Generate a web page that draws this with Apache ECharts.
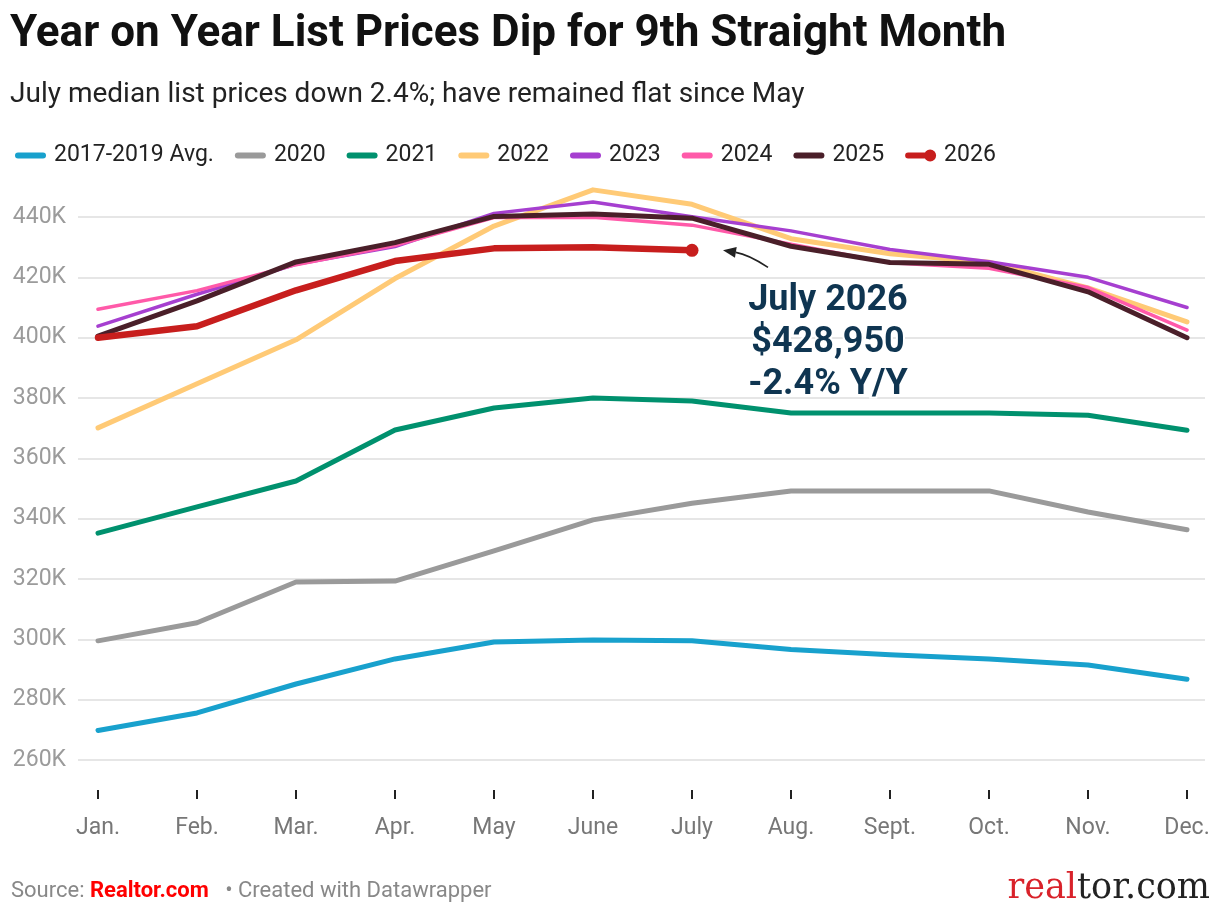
<!DOCTYPE html>
<html>
<head>
<meta charset="utf-8">
<title>Year on Year List Prices Dip for 9th Straight Month</title>
<script src="https://cdn.jsdelivr.net/npm/echarts@6/dist/echarts.min.js"></script>
<style>
  html, body { margin: 0; padding: 0; background: #fff; }
  #chart { width: 1220px; height: 916px; }
</style>
</head>
<body>
<div id="chart"></div>
<script>
    // months + median list prices
    var months = ['Jan.', 'Feb.', 'Mar.', 'Apr.', 'May', 'June', 'July', 'Aug.', 'Sept.', 'Oct.', 'Nov.', 'Dec.'];
    var yTicks = [260000, 440000, 20000]; // min, max, step

    var avg1719 = [269800, 275600, 285200, 293500, 299100, 299800, 299500, 296600, 294900, 293500, 291500, 286800];
    var y2020 = [299500, 305500, 319000, 319300, 329300, 339600, 345100, 349200, 349200, 349200, 342200, 336300];
    var y2021 = [335200, 343900, 352500, 369400, 376700, 380000, 379000, 375000, 375000, 375000, 374300, 369300];
    var y2022 = [370100, 384700, 399300, 419600, 437000, 449000, 444200, 432800, 427800, 425000, 416500, 405200];
    var y2023 = [403800, 414400, 424300, 430200, 441200, 445000, 440100, 435400, 429200, 425200, 420000, 410000];
    var y2024 = [409400, 415600, 424200, 430600, 439800, 439900, 437300, 431000, 424800, 423000, 416600, 402500];
    var y2025 = [400500, 412200, 425100, 431500, 440200, 441000, 439600, 430300, 424900, 424300, 415200, 400000];
    var y2026 = [400000, 403800, 415700, 425400, 429600, 430000, 428950];

    var names = ['2017-2019 Avg.', '2020', '2021', '2022', '2023', '2024', '2025', '2026'];
    var colors = ['#18a1cd', '#9a9a9a', '#00916e', '#ffca76', '#a63fd0', '#ff5aa9', '#4a1f29', '#c71e1d'];
    var widths = [5, 5, 5, 5, 3.5, 3.5, 5, 6.5];
    var values = [avg1719, y2020, y2021, y2022, y2023, y2024, y2025, y2026];

    var lineIcon = 'path://M0,0 M31,12 M3,3 L28,3 A3,3 0 0 1 28,9 L3,9 A3,3 0 0 1 3,3 Z';
    var dotIcon = 'path://M0,0 M31,12 M3,3 L23,3 L23,9 L3,9 A3,3 0 0 1 3,3 Z M19,6 A6,6 0 1 1 31,6 A6,6 0 1 1 19,6 Z';

    var lastIdx = y2026.length - 1;
    var series = [];
    for (var i = 0; i < names.length; i++) {
        var s = {
            name: names[i],
            type: 'line',
            xAxisIndex: 0,
            yAxisIndex: 0,
            clip: false,
            symbol: 'none',
            silent: true,
            color: colors[i],
            lineStyle: { width: widths[i], color: colors[i], cap: 'round', join: 'round' },
            emphasis: { disabled: true },
            data: values[i]
        };
        if (names[i] === '2026') {
            s.showSymbol = true;
            s.data = y2026.map(function (v, k) {
                return k === lastIdx
                    ? { value: v, symbol: 'circle', symbolSize: 13, itemStyle: { color: colors[7] } }
                    : { value: v, symbol: 'none' };
            });
            s.markPoint = {
                symbol: 'circle',
                symbolSize: 0,
                silent: true,
                data: [{ coord: [lastIdx, y2026[lastIdx]] }],
                label: {
                    show: true,
                    formatter: 'July 2026\n$428,950\n-2.4% Y/Y',
                    offset: [136, 93],
                    fontFamily: 'Roboto',
                    fontWeight: 'bold',
                    fontSize: 36,
                    lineHeight: 42,
                    color: '#0f3551',
                    align: 'center',
                    verticalAlign: 'middle',
                    textBorderColor: '#fff',
                    textBorderWidth: 4
                }
            };
        }
        series.push(s);
    }

    var chart = echarts.init(document.getElementById('chart'), null, { renderer: 'canvas' });
    var option = {
        animation: false,
        backgroundColor: '#fff',
        textStyle: { fontFamily: 'Roboto' },
        legend: {
            left: 10,
            top: 139,
            itemWidth: 31,
            itemHeight: 12,
            itemGap: 21,
            selectedMode: false,
            textStyle: { fontSize: 23, color: '#222', fontFamily: 'Roboto', padding: [0, 0, 0, 3] },
            data: names.map(function (n, k) {
                return { name: n, icon: n === '2026' ? dotIcon : lineIcon, itemStyle: { color: colors[k] } };
            })
        },
        grid: [
            { left: 98, right: 33, top: 217, bottom: 156 },
            { left: 78, right: 15, top: 217, bottom: 156 }
        ],
        xAxis: [
            {
                type: 'category',
                gridIndex: 0,
                data: months,
                boundaryGap: false,
                offset: 30,
                axisLine: { show: false },
                axisTick: { show: true, length: 9, alignWithLabel: true, lineStyle: { color: '#222', width: 2 } },
                axisLabel: { fontSize: 23, color: '#777', margin: 27, fontFamily: 'Roboto' },
                splitLine: { show: false }
            },
            { type: 'value', gridIndex: 1, show: false }
        ],
        yAxis: [
            {
                type: 'value', gridIndex: 0, show: false,
                min: yTicks[0], max: yTicks[1], interval: yTicks[2]
            },
            {
                type: 'value', gridIndex: 1,
                min: yTicks[0], max: yTicks[1], interval: yTicks[2],
                axisLine: { show: false },
                axisTick: { show: false },
                axisLabel: {
                    fontSize: 23, color: '#9b9b9b', margin: 12, fontFamily: 'Roboto',
                    formatter: function (v) { return (v / 1000) + 'K'; }
                },
                splitLine: { lineStyle: { color: '#e6e6e6', width: 2 } }
            }
        ],
        series: series
    };
    chart.setOption(option);

    // arrow pointing at the July 2026 point + titles and footer
    var p = chart.convertToPixel({ gridIndex: 0 }, [lastIdx, y2026[lastIdx]]);
    var tip = [p[0] + 31, p[1]];
    var tail = [p[0] + 76, p[1] + 17];
    var ctrl = [p[0] + 56, p[1] + 4];
    var dx = tip[0] - ctrl[0], dy = tip[1] - ctrl[1];
    var len = Math.sqrt(dx * dx + dy * dy);
    dx /= len; dy /= len;
    var bx = tip[0] - dx * 13, by = tip[1] - dy * 13;
    var head = [tip, [bx - dy * 5.5, by + dx * 5.5], [bx + dy * 5.5, by - dx * 5.5]];

    chart.setOption({
        graphic: [
            {
                type: 'text', left: 10, top: 13,
                style: { text: 'Year on Year List Prices Dip for 9th Straight Month', font: 'bold 44px Roboto', fill: '#111' }
            },
            {
                type: 'text', left: 10, top: 81,
                style: { text: 'July median list prices down 2.4%; have remained flat since May', font: '28px Roboto', fill: '#222' }
            },
            {
                type: 'bezierCurve',
                shape: { x1: tail[0], y1: tail[1], cpx1: ctrl[0], cpy1: ctrl[1], x2: bx, y2: by },
                style: { stroke: '#222', lineWidth: 1.6, fill: null },
                silent: true
            },
            {
                type: 'polygon',
                shape: { points: head },
                style: { fill: '#222' },
                silent: true
            },
            {
                type: 'text', left: 11, top: 880,
                style: {
                    text: 'Source: {r|Realtor.com}   \u2022 Created with Datawrapper',
                    font: '22px Roboto', fill: '#888',
                    rich: { r: { fontFamily: 'Roboto', fontSize: 22, fontWeight: 'bold', fill: '#f00' } }
                }
            },
            {
                type: 'text', right: 10, top: 871,
                style: {
                    text: '{a|real}{b|tor.com}',
                    rich: {
                        a: { fontFamily: 'DejaVu Serif', fontSize: 35, fill: '#d9222a' },
                        b: { fontFamily: 'DejaVu Serif', fontSize: 35, fill: '#222' }
                    }
                }
            }
        ]
    });
</script>
</body>
</html>
